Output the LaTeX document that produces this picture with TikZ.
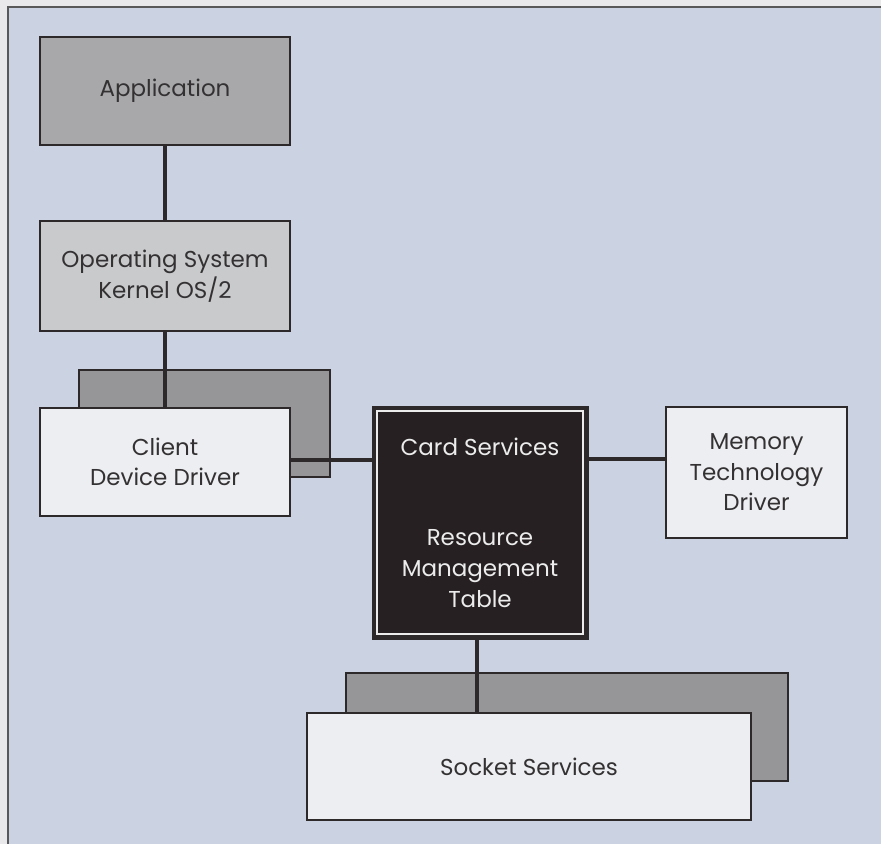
\documentclass[tikz,border=0pt]{standalone}
\usepackage{fontspec}
\setmainfont{Poppins}
\definecolor{pagebg}{RGB}{233,233,235}
\definecolor{panelbg}{RGB}{203,211,226}
\definecolor{appgray}{RGB}{168,168,170}
\definecolor{osgray}{RGB}{201,202,204}
\definecolor{shadowgray}{RGB}{150,150,152}
\definecolor{paleface}{RGB}{237,238,241}
\definecolor{cardfill}{RGB}{38,32,34}
\definecolor{inkline}{RGB}{45,40,42}
\definecolor{inktext}{RGB}{52,49,51}
\definecolor{cardtext}{RGB}{236,236,236}
\tikzset{
  labelfont/.style={font=\fontsize{23}{30.5}\selectfont},
  block/.style={draw=inkline, line width=2.6pt, inner sep=0pt, align=center,
    text=inktext, labelfont},
  shadowbox/.style={draw=inkline, line width=2.6pt, fill=shadowgray, inner sep=0pt},
  link/.style={draw=inkline, line width=4pt}
}
\begin{document}
\begin{tikzpicture}[x=1pt,y=-1pt]
  % page and panel
  \fill[pagebg] (0,0) rectangle (881,844);
  \useasboundingbox (0,0) rectangle (881,844);
  \fill[panelbg] (8,7) rectangle (881,844);
  \draw[gray!70!black, line width=1.4pt] (881,7) -- (8,7) -- (8,844);

  % shadow plates behind the driver blocks
  \node[shadowbox, minimum width=251, minimum height=107] (clientshadow) at (204.5,423.5) {};
  \node[shadowbox, minimum width=442, minimum height=108] (socketshadow) at (567,727) {};

  % blocks
  \node[block, fill=appgray, minimum width=250, minimum height=108] (app) at (165,91) {Application};
  \node[block, fill=osgray, minimum width=250, minimum height=110] (os) at (165,276)
    {Operating System\\Kernel OS/2};
  \node[block, fill=paleface, minimum width=250, minimum height=108] (client) at (165,462)
    {Client\\Device Driver};
  \node[block, fill=paleface, minimum width=181, minimum height=131] (mtd) at (756.5,472.5)
    {Memory\\Technology\\Driver};
  \node[block, fill=paleface, minimum width=444, minimum height=107] (socket) at (529,766.5)
    {Socket Services};

  % card services block with its inner hairline frame
  \node[draw=inkline, line width=5pt, fill=cardfill, inner sep=0pt,
        minimum width=212, minimum height=229] (card) at (480,522.5) {};
  \draw[cardtext, line width=1.3pt]
    ([shift={(5.5,5.5)}]card.north west) rectangle ([shift={(-5.5,-5.5)}]card.south east);
  \node[text=cardtext, labelfont, anchor=base] (cardtitle) at (480,455) {Card Services};
  \node[text=cardtext, labelfont, anchor=base] (rmt1) at (480,545) {Resource};
  \node[text=cardtext, labelfont, anchor=base] (rmt2) at (480,576) {Management};
  \node[text=cardtext, labelfont, anchor=base] (rmt3) at (480,607) {Table};

  % connectors
  \draw[link] (client.east |- 0,460) coordinate (cl) -- (card.west |- cl);
  \draw[link] (app.south) -- (os.north);
  \draw[link] (os.south) -- (client.north);
  \draw[link] (card.east |- 0,459) coordinate (cr) -- (mtd.west |- cr);
  \draw[link] (card.south -| 477,0) coordinate (cb) -- (socket.north -| cb);
\end{tikzpicture}
\end{document}
